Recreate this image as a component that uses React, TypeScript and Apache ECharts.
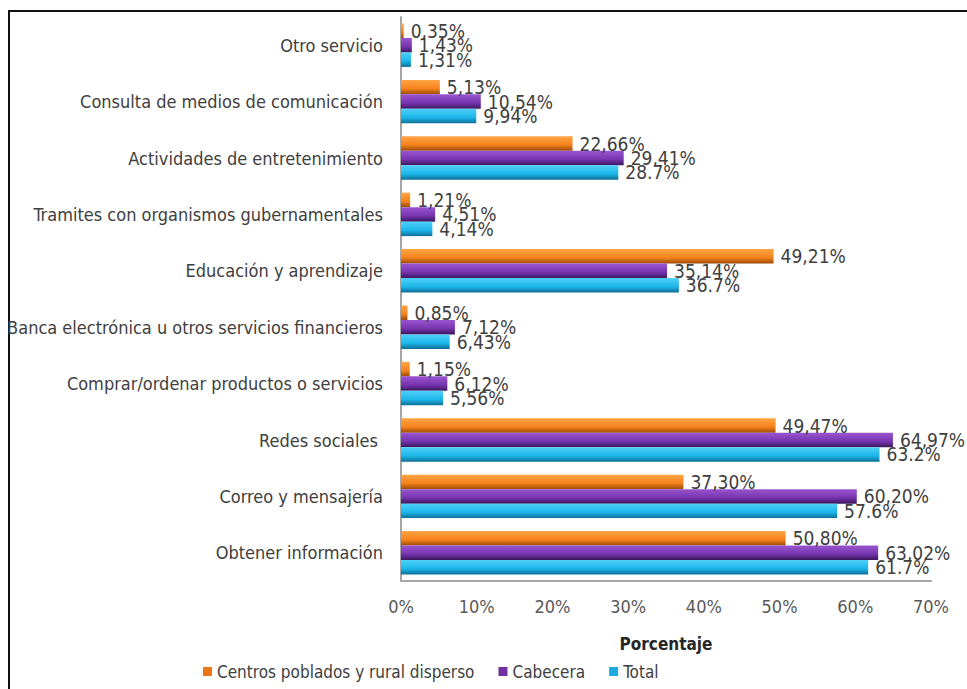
import React, { useEffect, useRef } from "react";
import * as echarts from "echarts";

// Categories listed bottom-to-top (ECharts category y-axis starts at the bottom)
const categories = [
  "Obtener información",
  "Correo y mensajería",
  "Redes sociales ",
  "Comprar/ordenar productos o servicios",
  "Banca electrónica u otros servicios financieros",
  "Educación y aprendizaje",
  "Tramites con organismos gubernamentales",
  "Actividades de entretenimiento",
  "Consulta de medios de comunicación",
  "Otro servicio",
];

const centrosValues = [50.8, 37.3, 49.47, 1.15, 0.85, 49.21, 1.21, 22.66, 5.13, 0.35];
const cabeceraValues = [63.02, 60.2, 64.97, 6.12, 7.12, 35.14, 4.51, 29.41, 10.54, 1.43];
const totalValues = [61.7, 57.6, 63.2, 5.56, 6.43, 36.7, 4.14, 28.7, 9.94, 1.31];

const centrosLabels = ["50,80%", "37,30%", "49,47%", "1,15%", "0,85%", "49,21%", "1,21%", "22,66%", "5,13%", "0,35%"];
const cabeceraLabels = ["63,02%", "60,20%", "64,97%", "6,12%", "7,12%", "35,14%", "4,51%", "29,41%", "10,54%", "1,43%"];
const totalLabels = ["61.7%", "57.6%", "63.2%", "5,56%", "6,43%", "36.7%", "4,14%", "28.7%", "9,94%", "1,31%"];

const seriesNames = ["Centros poblados y rural disperso", "Cabecera", "Total"];

const FONT = "'DejaVu Sans Condensed', 'DejaVu Sans', sans-serif";

function grad(light: string, main: string, dark: string) {
  return new echarts.graphic.LinearGradient(0, 0, 0, 1, [
    { offset: 0, color: light },
    { offset: 0.6, color: main },
    { offset: 1, color: dark },
  ]);
}

export default function App() {
  const ref = useRef<HTMLDivElement>(null);
  useEffect(() => {
    if (!ref.current) return;
    const chart = echarts.init(ref.current, null, { renderer: "svg" });

    const makeSeries = (name: string, values: number[], labels: string[], color: any, legendColor: string) => ({
      name,
      type: "bar",
      data: values,
      barGap: "0%",
      barCategoryGap: "23%",
      itemStyle: { color },
      color: legendColor,
      label: {
        show: true,
        position: "right",
        distance: 7,
        formatter: (p: any) => labels[p.dataIndex],
        color: "#404040",
        fontFamily: FONT,
        fontSize: 19,
      },
    });

    chart.setOption({
      animation: false,
      backgroundColor: "#ffffff",
      grid: { left: 401, right: 36, top: 17, bottom: 108, containLabel: false },
      legend: {
        data: seriesNames.map((n, i) => ({
          name: n,
          itemStyle: { color: ["#ec7518", "#7030a0", "#1fa9e1"][i] },
        })),
        left: 198,
        top: 658,
        itemWidth: 9,
        itemHeight: 9,
        itemGap: 24,
        icon: "rect",
        textStyle: { fontFamily: FONT, fontSize: 17, color: "#404040" },
      },
      xAxis: {
        type: "value",
        min: 0,
        max: 70,
        interval: 10,
        name: "Porcentaje",
        nameLocation: "middle",
        nameGap: 54,
        nameTextStyle: { fontFamily: FONT, fontSize: 17, fontWeight: "bold", color: "#262626" },
        axisLine: { show: true, lineStyle: { color: "#a6a6a6", width: 2 } },
        axisTick: { show: false },
        splitLine: { show: false },
        axisLabel: {
          formatter: "{value}%",
          fontFamily: FONT,
          fontSize: 18,
          color: "#595959",
          margin: 16,
        },
      },
      yAxis: {
        type: "category",
        data: categories,
        axisLine: { show: true, lineStyle: { color: "#a6a6a6", width: 2 } },
        axisTick: { show: false },
        axisLabel: { fontFamily: FONT, fontSize: 18, color: "#404040", margin: 18 },
      },
      series: [
        makeSeries(seriesNames[0], centrosValues, centrosLabels, grad("#ffa444", "#f5821c", "#9a4a05"), "#ec7518"),
        makeSeries(seriesNames[1], cabeceraValues, cabeceraLabels, grad("#9a55d0", "#7634ae", "#3a165c"), "#7030a0"),
        makeSeries(seriesNames[2], totalValues, totalLabels, grad("#4fd0f8", "#1cb6ea", "#0d6f96"), "#1fa9e1"),
      ],
      graphic: [
        { type: "line", shape: { x1: 8, y1: 11, x2: 967, y2: 11 }, style: { stroke: "#111", lineWidth: 2 } },
        { type: "line", shape: { x1: 9, y1: 10, x2: 9, y2: 689 }, style: { stroke: "#111", lineWidth: 2 } },
      ],
    });
    return () => chart.dispose();
  }, []);
  return (
    <div
      ref={ref}
      style={{ position: "absolute", left: 0, top: 0, width: 967, height: 689 }}
    />
  );
}
